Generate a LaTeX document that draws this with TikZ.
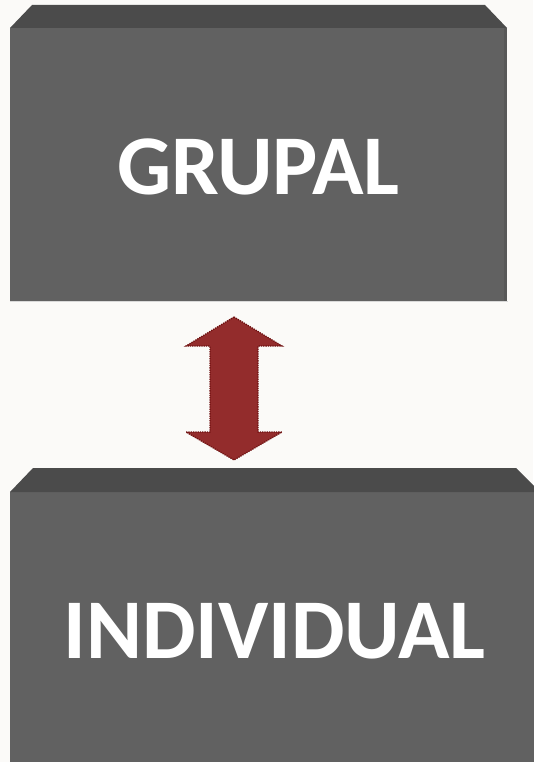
\documentclass[tikz,border=0pt]{standalone}
\usepackage{fontspec}
\setmainfont{Carlito}
\definecolor{bg}{HTML}{FBFAF8}
\definecolor{face}{HTML}{616161}
\definecolor{bevel}{HTML}{4B4B4B}
\definecolor{side}{HTML}{585858}
\definecolor{arrowred}{HTML}{932C2C}
\definecolor{arrowedge}{HTML}{6E1010}
\begin{document}
\begin{tikzpicture}[x=1pt,y=-1pt,
  boxtext/.style={text=white,font=\fontsize{85}{90}\selectfont\bfseries,inner sep=0pt,anchor=center},
  facefill/.style={fill=face},
  bevelfill/.style={fill=bevel}]
\fill[bg] (0,0) rectangle (533,762);
\useasboundingbox (0,0) rectangle (533,762);
% top box
\fill[facefill] (10,28) rectangle (507,301);
\fill[side] (504,28) rectangle (507,301);
\fill[bevelfill] (10,28) -- (32,5) -- (485,5) -- (507,28) -- cycle;
\draw[black!15,line width=1pt] (10,301.5) -- (507.5,301.5);
\node[boxtext] (grupal) at (258.5,167) {GRUPAL};
% bottom box
\fill[facefill] (10,492) rectangle (540,770);
\fill[bevelfill] (10,492) -- (33,468) -- (516,468) -- (540,492) -- cycle;
\node[boxtext] (individual) at (274.5,631) {INDIVIDUAL};
% double arrow
\draw[fill=arrowred,draw=arrowedge,densely dotted,line width=1.3pt]
  (234,317) -- (282,346) -- (258,346) -- (258,432) -- (282,432) -- (234,460)
  -- (186,432) -- (210,432) -- (210,346) -- (186,346) -- cycle;
\end{tikzpicture}
\end{document}
